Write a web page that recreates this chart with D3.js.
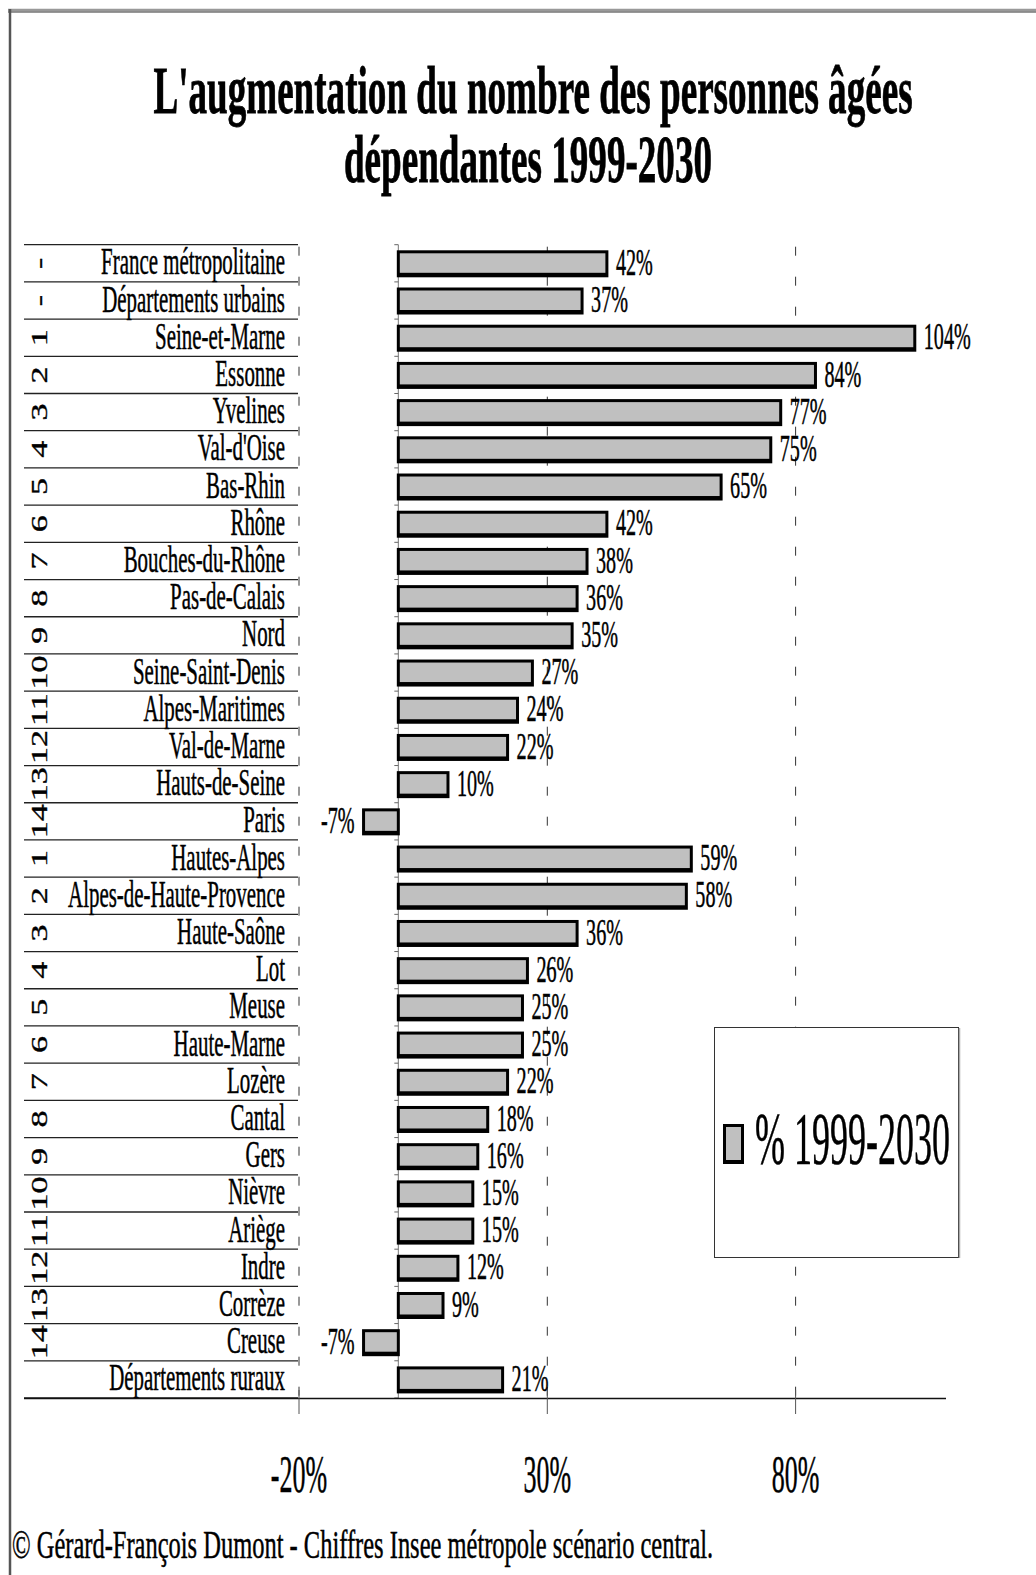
<!DOCTYPE html>
<html>
<head>
<meta charset="utf-8">
<script src="https://cdn.jsdelivr.net/npm/d3@7"></script>
<style>
  html, body { margin: 0; padding: 0; background: #fff; }
  svg { display: block; }
  text { font-family: "Liberation Serif", "Times New Roman", Times, serif; fill: #000; stroke: #000; stroke-width: 0.5px; }
</style>
</head>
<body>
<script>
// Département list, top to bottom
const categories = [
  "France métropolitaine", "Départements urbains",
  "Seine-et-Marne", "Essonne", "Yvelines", "Val-d'Oise", "Bas-Rhin", "Rhône",
  "Bouches-du-Rhône", "Pas-de-Calais", "Nord", "Seine-Saint-Denis",
  "Alpes-Maritimes", "Val-de-Marne", "Hauts-de-Seine", "Paris",
  "Hautes-Alpes", "Alpes-de-Haute-Provence", "Haute-Saône", "Lot", "Meuse",
  "Haute-Marne", "Lozère", "Cantal", "Gers", "Nièvre", "Ariège", "Indre",
  "Corrèze", "Creuse", "Départements ruraux"
];

// Growth of dependent elderly population 1999-2030, in %
const values = [
  42, 37,
  104, 84, 77, 75, 65, 42, 38, 36, 35, 27, 24, 22, 10, -7,
  59, 58, 36, 26, 25, 25, 22, 18, 16, 15, 15, 12, 9, -7,
  21
];

// Rank within each group
const ranks = [
  "-", "-",
  "1", "2", "3", "4", "5", "6", "7", "8", "9", "10", "11", "12", "13", "14",
  "1", "2", "3", "4", "5", "6", "7", "8", "9", "10", "11", "12", "13", "14",
  ""
];

const tickValues = [-20, 30, 80];
const tickLabels = ["-20%", "30%", "80%"];

const titleLines = ["L'augmentation du nombre des personnes âgées", "dépendantes 1999-2030"];
const legendLabel = "% 1999-2030";
const footerText = "© Gérard-François Dumont - Chiffres Insee métropole scénario central.";

const W = 1036, H = 1575;

const svg = d3.select("body").append("svg")
  .attr("width", W).attr("height", H)
  .attr("viewBox", `0 0 ${W} ${H}`);

// narrow lettering: text drawn at its anchor, squeezed horizontally
function ctext(parent, x, y, str, size, sx, anchor, weight) {
  return parent.append("text")
    .attr("transform", `translate(${x},${y}) scale(${sx},1)`)
    .attr("text-anchor", anchor || "start")
    .style("font-size", size + "px")
    .style("font-weight", weight || "normal")
    .text(str);
}

// frame
svg.append("line").attr("x1", 8).attr("x2", W).attr("y1", 10).attr("y2", 10)
  .attr("stroke", "#999").attr("stroke-width", 2.5);
svg.append("line").attr("x1", 8).attr("x2", W).attr("y1", 12).attr("y2", 12)
  .attr("stroke", "#333").attr("stroke-width", 1.2);
svg.append("line").attr("x1", 10).attr("x2", 10).attr("y1", 9).attr("y2", H)
  .attr("stroke", "#555").attr("stroke-width", 2.5);

// title
ctext(svg, 533, 113, titleLines[0], 67, 0.554, "middle", "bold").style("stroke-width", "0.8px");
ctext(svg, 528, 182, titleLines[1], 67, 0.554, "middle", "bold").style("stroke-width", "0.8px");

// scales
const x = d3.scaleLinear().domain([-20, 80]).range([299, 795.6]);
const y = d3.scaleBand().domain(categories).range([244.7, 1398]).padding(0);
const x0 = x(0);
const bw = y.bandwidth();

const plotTop = y.range()[0];
const plotBottom = y.range()[1];

// dashed gridlines
svg.append("g").selectAll("line").data(tickValues).join("line")
  .attr("x1", d => x(d)).attr("x2", d => x(d))
  .attr("y1", plotTop + 2).attr("y2", plotBottom)
  .attr("stroke", "#333").attr("stroke-width", 1)
  .attr("stroke-dasharray", "9 21");

// row separators of the label table
const bounds = d3.range(categories.length + 1).map(i => y.range()[0] + i * y.step());
svg.append("g").selectAll("line").data(bounds).join("line")
  .attr("x1", 24).attr("x2", 298)
  .attr("y1", d => d).attr("y2", d => d)
  .attr("stroke", "#222").attr("stroke-width", 1.3);

// zero axis with small ticks at band boundaries
svg.append("line").attr("x1", x0).attr("x2", x0)
  .attr("y1", plotTop).attr("y2", plotBottom)
  .attr("stroke", "#777").attr("stroke-width", 1);
svg.append("g").selectAll("line").data(bounds).join("line")
  .attr("x1", x0 - 4).attr("x2", x0)
  .attr("y1", d => d).attr("y2", d => d)
  .attr("stroke", "#666").attr("stroke-width", 1);

// category labels
const labels = svg.append("g");
categories.forEach(c => {
  ctext(labels, 285, y(c) + bw / 2 + 11, c, 38, 0.55, "end");
});

// rank numbers, rotated to read upward
const rankG = svg.append("g");
categories.forEach((c, i) => {
  if (!ranks[i]) return;
  rankG.append("text")
    .attr("transform", `translate(47,${y(c) + bw / 2}) scale(0.68,1) rotate(-90)`)
    .attr("text-anchor", "middle")
    .style("font-size", "34px")
    .text(ranks[i]);
});

// bars: black frame with heavier bottom edge, grey fill
const data = categories.map((c, i) => ({ c, v: values[i] }));
const bars = svg.append("g");
bars.selectAll("rect.frame").data(data).join("rect")
  .attr("class", "frame")
  .attr("x", d => Math.min(x(d.v), x0) - 1.5)
  .attr("width", d => Math.abs(x(d.v) - x0) + 3)
  .attr("y", d => y(d.c) + bw / 2 - 13)
  .attr("height", 27)
  .attr("fill", "#000");
bars.selectAll("rect.fill").data(data).join("rect")
  .attr("class", "fill")
  .attr("x", d => Math.min(x(d.v), x0) + 1.5)
  .attr("width", d => Math.max(0, Math.abs(x(d.v) - x0) - 3))
  .attr("y", d => y(d.c) + bw / 2 - 10)
  .attr("height", 19.5)
  .attr("fill", "#c0c0c0");

// value labels
const vl = svg.append("g");
data.forEach(d => {
  const cy = y(d.c) + bw / 2 + 11.7;
  if (d.v >= 0) ctext(vl, x(d.v) + 9, cy, d.v + "%", 38, 0.53, "start");
  else ctext(vl, x(d.v) - 9, cy, d.v + "%", 38, 0.53, "end");
});

// horizontal axis
svg.append("line").attr("x1", 24).attr("x2", 946)
  .attr("y1", plotBottom + 0.5).attr("y2", plotBottom + 0.5)
  .attr("stroke", "#111").attr("stroke-width", 1.3);
svg.append("g").selectAll("line").data(tickValues).join("line")
  .attr("x1", d => x(d)).attr("x2", d => x(d))
  .attr("y1", plotBottom - 8).attr("y2", plotBottom + 16)
  .attr("stroke", "#555").attr("stroke-width", 1);
const tl = svg.append("g");
tickValues.forEach((t, i) => {
  ctext(tl, x(t), 1492, tickLabels[i], 52, 0.5, "middle");
});

// legend
const lg = svg.append("g");
lg.append("rect").attr("x", 714.5).attr("y", 1027.5).attr("width", 244).attr("height", 230)
  .attr("fill", "#fff").attr("stroke", "#333").attr("stroke-width", 1);
lg.append("line").attr("x1", 959.5).attr("x2", 959.5).attr("y1", 1028).attr("y2", 1258)
  .attr("stroke", "#aaa").attr("stroke-width", 1.5);
lg.append("rect").attr("x", 723).attr("y", 1124).attr("width", 21).attr("height", 40).attr("fill", "#000");
lg.append("rect").attr("x", 726).attr("y", 1127).attr("width", 15).attr("height", 33).attr("fill", "#c0c0c0");
ctext(lg, 755, 1164, legendLabel, 74, 0.487, "start");

// source
ctext(svg, 12, 1558, footerText, 40, 0.612, "start");
</script>
</body>
</html>
